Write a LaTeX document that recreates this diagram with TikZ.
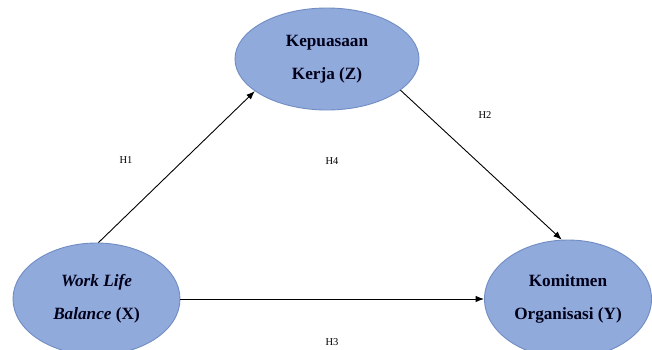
\documentclass[tikz,border=0pt]{standalone}
\usepackage{fontspec}
\setmainfont{Liberation Serif}
\usetikzlibrary{shapes.geometric,arrows.meta}
\definecolor{ellfill}{RGB}{145,170,220}
\definecolor{elldraw}{RGB}{112,140,195}
\tikzset{
  var/.style={ellipse, draw=elldraw, fill=ellfill, line width=0.9pt, inner sep=0pt,
    align=center, font=\fontsize{17.2}{33}\selectfont\bfseries, text=black!90!blue},
  hlabel/.style={font=\fontsize{10.5}{12}\selectfont, inner sep=0pt},
  link/.style={line width=0.9pt, -{Latex[length=8.5pt,width=6.5pt]}}
}
\begin{document}
\begin{tikzpicture}[x=1pt,y=-1pt]
\useasboundingbox (0,0) rectangle (652,349);
\clip (0,0) rectangle (652,349);
\fill[white] (0,0) rectangle (652,349);
\node[var, minimum width=184pt, minimum height=102pt] (Z) at (327,59) {Kepuasaan\\Kerja (Z)};
\node[var, minimum width=167pt, minimum height=112pt] (X) at (96.5,299) {\textit{Work Life}\\\textit{Balance} (X)};
\node[var, minimum width=167pt, minimum height=118pt] (Y) at (568,299) {Komitmen\\Organisasi (Y)};
\draw[link] (X.88) -- (Z.204);
\draw[link] (Z.337) -- (Y.96);
\draw[link] (X.east) -- (Y.west);
\node[hlabel] (h1) at (126,160) {H1};
\node[hlabel] (h4) at (332,161) {H4};
\node[hlabel] (h2) at (485,115) {H2};
\node[hlabel] (h3) at (332,342.5) {H3};
\end{tikzpicture}
\end{document}
